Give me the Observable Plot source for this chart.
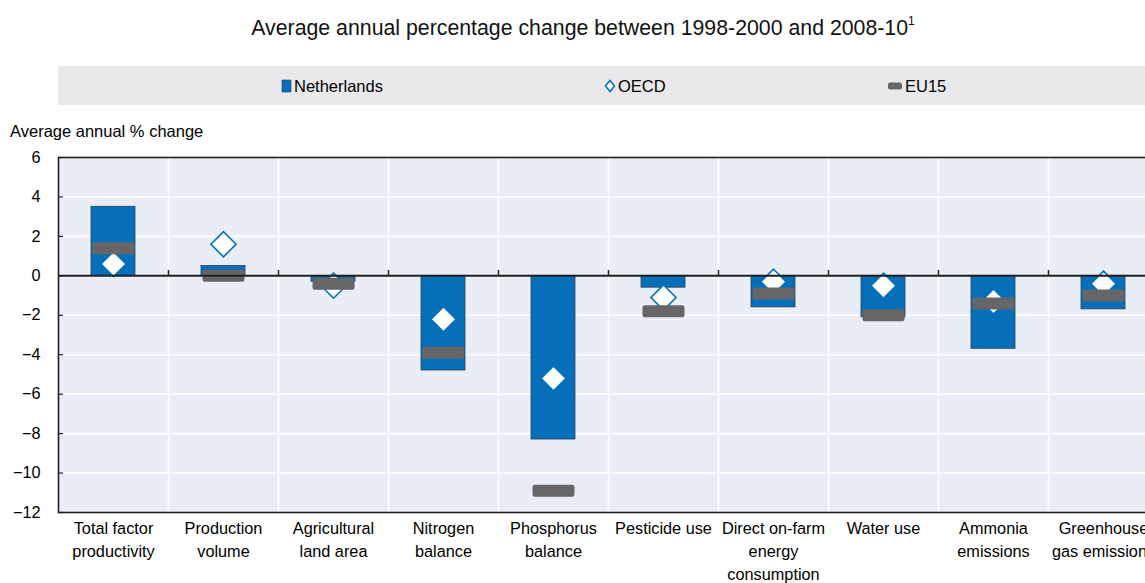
<!DOCTYPE html>
<html><head><meta charset="utf-8">
<script src="https://cdn.jsdelivr.net/npm/d3@7"></script>
<script src="https://cdn.jsdelivr.net/npm/@observablehq/plot@0.6"></script>
<style>
html,body{margin:0;padding:0;background:#fff;overflow:hidden;width:1145px;height:583px;}
body{font-family:"Liberation Sans",Arial,sans-serif;color:#000;position:relative;}
#title{position:absolute;left:0;top:14px;width:1166px;text-align:center;font-size:21.3px;white-space:nowrap;color:#111;}
#title sup{font-size:12px;vertical-align:10px;}
#legend{position:absolute;left:58px;top:66px;width:1087px;height:39px;background:#e9e9eb;font-size:16.5px;}
.item{position:absolute;top:11px;display:flex;align-items:center;height:18px;}
.item svg{margin-right:2px;}
#ylabel{position:absolute;left:10px;top:122px;font-size:16.5px;white-space:nowrap;}
#chart{position:absolute;left:0;top:110px;}
#chart svg{max-width:none;}
</style></head>
<body>
<div id="title">Average annual percentage change between 1998-2000 and 2008-10<sup>1</sup></div>
<div id="legend"></div>
<div id="ylabel">Average annual % change</div>
<div id="chart"></div>
<script>
const categories = ["Total factor\nproductivity","Production\nvolume","Agricultural\nland area","Nitrogen\nbalance","Phosphorus\nbalance","Pesticide use","Direct on-farm\nenergy\nconsumption","Water use","Ammonia\nemissions","Greenhouse\ngas emissions"];
const netherlands = [3.5, 0.5, -0.3, -4.8, -8.3, -0.6, -1.6, -2.1, -3.7, -1.7];
const oecd = [0.6, 1.6, -0.5, -2.2, -5.2, -1.1, -0.3, -0.5, -1.3, -0.4];
const eu15 = [1.4, 0.0, -0.4, -3.9, -10.9, -1.8, -0.9, -2.0, -1.4, -1.0];
const yTicks = [-12, -10, -8, -6, -4, -2, 0, 2, 4, 6];
const seriesNames = ["Netherlands", "OECD", "EU15"];

const BLUE = "#0570b9", GREY = "#666668", DARK = "#231f20";

const rows = categories.map((c, i) => ({category: c, nl: netherlands[i], oecd: oecd[i], eu15: eu15[i]}));

const euSymbol = {draw(ctx) {
  const w = 21, h = 6, r = 2.5;
  ctx.moveTo(-w + r, -h); ctx.lineTo(w - r, -h); ctx.arcTo(w, -h, w, -h + r, r);
  ctx.lineTo(w, h - r); ctx.arcTo(w, h, w - r, h, r);
  ctx.lineTo(-w + r, h); ctx.arcTo(-w, h, -w, h - r, r);
  ctx.lineTo(-w, -h + r); ctx.arcTo(-w, -h, -w + r, -h, r);
  ctx.closePath();
}};

// legend
const legend = document.getElementById("legend");
const icons = [
  `<svg width="11" height="14"><rect x="1" y="1" width="9" height="12" fill="${BLUE}" stroke="#2b3f55" stroke-width="0.6"/></svg>`,
  `<svg width="12" height="14"><path d="M6,1.5L10.5,7L6,12.5L1.5,7Z" fill="#fff" stroke="${BLUE}" stroke-width="1.6"/></svg>`,
  `<svg width="16" height="14"><rect x="1" y="3.5" width="14" height="7" rx="2" fill="${GREY}"/></svg>`
];
const legendX = [223, 546, 829];
seriesNames.forEach((n, i) => {
  const d = document.createElement("div");
  d.className = "item";
  d.style.left = legendX[i] + "px";
  d.innerHTML = icons[i] + `<span>${n}</span>`;
  legend.appendChild(d);
});

const chart = Plot.plot({
  width: 1160, height: 473,
  marginLeft: 58, marginRight: 2, marginTop: 47, marginBottom: 71,
  x: {domain: categories, padding: 0, label: null},
  y: {domain: [-12, 6], label: null},
  style: {fontFamily: "'Liberation Sans', Arial, sans-serif", fontSize: "16.3px", color: "#000", background: "transparent"},
  marks: [
    Plot.frame({fill: "#e9edf6"}),
    Plot.gridY(yTicks, {stroke: "#fff", strokeOpacity: 1, strokeWidth: 1.6}),
    Plot.ruleX(categories.slice(1), {x: d => d, dx: -55, stroke: "#fff", strokeWidth: 1.6}),
    Plot.barY(rows, {x: "category", y: "nl", fill: BLUE, stroke: "#2b3f55", strokeWidth: 0.8, insetLeft: 33, insetRight: 33}),
    Plot.dot(rows, {x: "category", y: "oecd", symbol: "diamond2", r: 11.3, fill: "#fff", stroke: BLUE, strokeWidth: 1.6}),
    Plot.dot(rows, {x: "category", y: "eu15", symbol: euSymbol, fill: GREY}),
    Plot.ruleY([0], {stroke: DARK, strokeWidth: 2}),
    Plot.ruleX(categories.slice(1), {x: d => d, dx: -55, y1: 0, y2: 0.27, stroke: DARK, strokeWidth: 1.5}),
    Plot.frame({stroke: DARK, strokeWidth: 1.6}),
    Plot.axisY({ticks: yTicks, tickSize: -5, tickPadding: 23, stroke: DARK, strokeWidth: 1.2, fontSize: 16.3}),
    Plot.axisX({tickSize: 0, tickPadding: 5, lineHeight: 1.41, fontSize: 16.3})
  ]
});
document.getElementById("chart").appendChild(chart);
</script>
</body></html>
